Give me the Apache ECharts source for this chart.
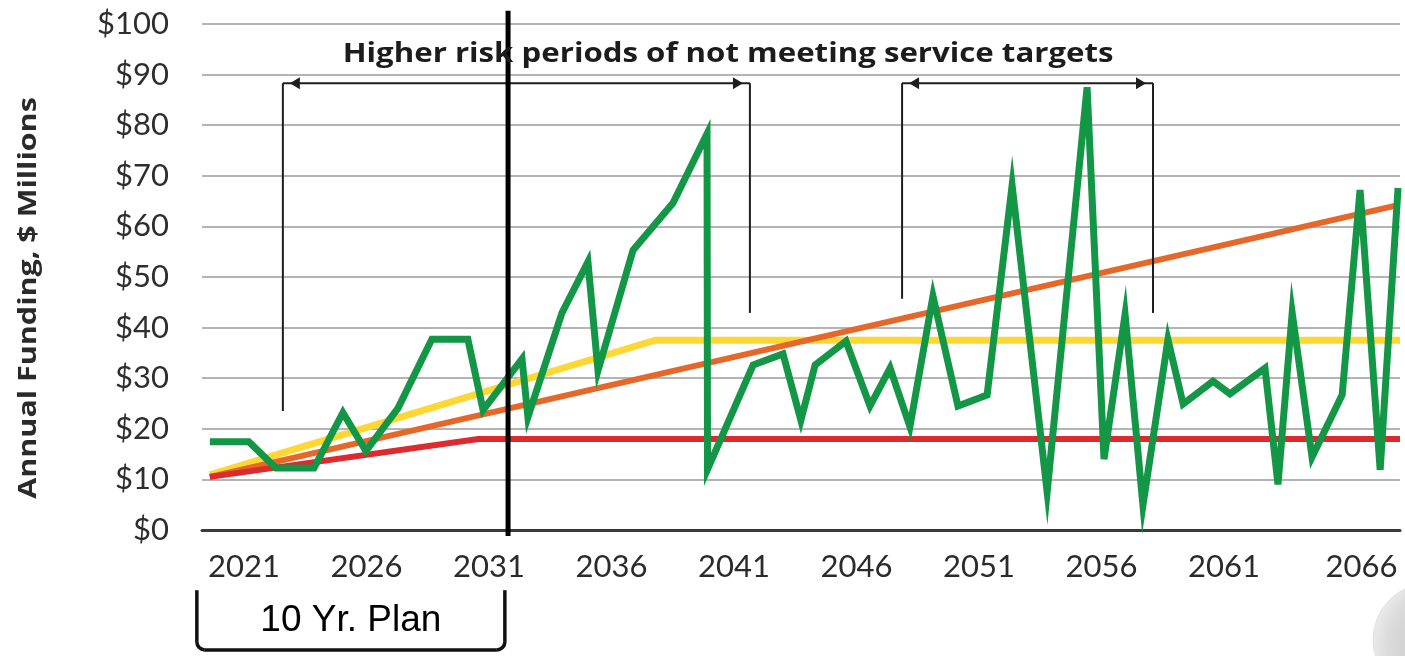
<!DOCTYPE html>
<html><head><meta charset="utf-8">
<script src="https://cdn.jsdelivr.net/npm/echarts@6/dist/echarts.min.js"></script>
<style>html,body{margin:0;padding:0;background:#fff}#c{width:1405px;height:656px}</style>
</head><body><div id="c"></div>
<script>
// ---- data (years on x, $ millions on y) ----
const yearTicks = [2021, 2026, 2031, 2036, 2041, 2046, 2051, 2056, 2061, 2066];
const valueTicks = [0, 10, 20, 30, 40, 50, 60, 70, 80, 90, 100];

const greenYears = [2019.61, 2021.20, 2022.31, 2023.86, 2025.04, 2025.98, 2027.29, 2028.67, 2030.14, 2030.76,
  2032.35, 2032.59, 2033.98, 2035.04, 2035.45, 2036.88, 2038.51, 2039.90, 2039.92, 2041.78,
  2043.00, 2043.73, 2044.31, 2045.57, 2046.55, 2047.37, 2048.18, 2049.12, 2050.14, 2051.33,
  2052.35, 2053.78, 2055.41, 2056.10, 2056.96, 2057.69, 2058.71, 2059.33, 2060.55, 2061.24,
  2062.67, 2063.20, 2063.78, 2064.59, 2065.82, 2066.55, 2067.37, 2068.10];
const greenValues = [17.45, 17.45, 12.25, 12.25, 23.2, 15.6, 24.1, 37.7, 37.7, 23.7,
  33.8, 22.3, 42.9, 53.0, 31.5, 55.3, 64.6, 78.3, 12.0, 32.6,
  34.8, 21.7, 32.6, 37.3, 24.5, 32.0, 20.4, 46.2, 24.5, 26.7,
  68.1, 7.5, 87.5, 14.0, 42.6, 4.9, 37.6, 24.9, 29.4, 26.9,
  32.0, 9.0, 42.9, 14.4, 26.7, 67.2, 11.9, 67.6];

const redYears = [2019.61, 2030.57, 2068.18];
const redValues = [10.5, 18.0, 18.0];
const yellowYears = [2019.61, 2037.78, 2068.18];
const yellowValues = [10.9, 37.5, 37.5];
const orangeYears = [2019.61, 2068.10];
const orangeValues = [10.5, 64.2];

// annotations (data units)
const planEndYear = 2031.78;
const planLineRange = [-1.2, 102.6];
const planBracketYears = [2019.08, 2031.65];
const planBracketValues = [-11.9, -23.7];
const planLabel = '10 Yr. Plan';
const riskTitle = 'Higher risk periods of not meeting service targets';
const riskTitlePos = [2040.76, 93.9];
const riskTop = 88.3;
const riskStarts = [2022.59, 2047.86];
const riskEnds = [2041.65, 2058.10];
const riskStartBottoms = [23.5, 45.7];
const riskEndBottoms = [42.9, 42.9];
const yAxisTitle = 'Annual Funding, $ Millions';

const zip = (xs, ys) => xs.map((x, i) => [x, ys[i]]);
const lastTick = yearTicks[yearTicks.length - 1];

const chart = echarts.init(document.getElementById('c'), null, { renderer: 'canvas' });

const option = {
  animation: false,
  backgroundColor: '#ffffff',
  grid: { left: 202, right: 5, top: 24, bottom: 126, containLabel: false },
  xAxis: {
    type: 'value', min: 2019.29, max: 2068.18,
    axisLine: { show: true, onZero: true, lineStyle: { color: '#3a3a3a', width: 3 } },
    axisTick: { show: false },
    splitLine: { show: false },
    axisLabel: {
      customValues: yearTicks,
      formatter: v => Math.round(v) === lastTick ? '{last|' + lastTick + '}' : String(Math.round(v)),
      fontFamily: 'Lato', fontSize: 31, color: '#2b2b2b', margin: 21,
      rich: { last: { fontFamily: 'Lato', fontSize: 31, color: '#2b2b2b', padding: [0, 0, 0, 30] } }
    }
  },
  yAxis: {
    type: 'value', min: 0, max: 100, interval: 10,
    axisLine: { show: false }, axisTick: { show: false },
    splitLine: { show: true, lineStyle: { color: '#b4b4b4', width: 2 } },
    axisLabel: {
      formatter: v => '$' + v,
      fontFamily: 'Lato', fontSize: 31, color: '#2e2e2e', margin: 33
    }
  },
  series: [
    { name: 'yellow', type: 'line', data: zip(yellowYears, yellowValues), symbol: 'none', z: 2,
      lineStyle: { color: '#fdd835', width: 7 } },
    { name: 'orange', type: 'line', data: zip(orangeYears, orangeValues), symbol: 'none', z: 3,
      lineStyle: { color: '#e5672a', width: 6 } },
    { name: 'red', type: 'line', data: zip(redYears, redValues), symbol: 'none', z: 4,
      lineStyle: { color: '#dd2a2e', width: 6 } },
    { name: 'green', type: 'line', data: zip(greenYears, greenValues), symbol: 'none', z: 5,
      lineStyle: { color: '#139646', width: 7, join: 'miter', miterLimit: 10 } }
  ]
};
chart.setOption(option);

function buildGraphics() {
  const P = (x, y) => chart.convertToPixel({ gridIndex: 0 }, [x, y]);
  const ink = '#1e1e1e';
  const els = [];
  const seg = (a, b, w, c) => ({ type: 'line', z: 100,
    shape: { x1: a[0], y1: a[1], x2: b[0], y2: b[1] },
    style: { stroke: c || ink, lineWidth: w || 2 } });

  // risk brackets
  for (let i = 0; i < riskStarts.length; i++) {
    const tl = P(riskStarts[i], riskTop), tr = P(riskEnds[i], riskTop);
    const bl = P(riskStarts[i], riskStartBottoms[i]), br = P(riskEnds[i], riskEndBottoms[i]);
    els.push(seg(tl, tr), seg(tl, bl), seg(tr, br));
    const aL = [tl[0] + 7, tl[1]], aR = [tr[0] - 7, tr[1]];
    els.push({ type: 'polygon', z: 101, shape: { points: [[aL[0], aL[1]], [aL[0] + 10, aL[1] - 6], [aL[0] + 10, aL[1] + 6]] }, style: { fill: ink } });
    els.push({ type: 'polygon', z: 101, shape: { points: [[aR[0], aR[1]], [aR[0] - 10, aR[1] - 6], [aR[0] - 10, aR[1] + 6]] }, style: { fill: ink } });
  }
  // title of risk periods
  const tp = P(riskTitlePos[0], riskTitlePos[1]);
  els.push({ type: 'text', z: 102, x: tp[0], y: tp[1], scaleX: 1.2,
    style: { text: riskTitle, fill: '#1c1c1c', fontFamily: 'Open Sans', fontWeight: 'bold', fontSize: 26,
      align: 'center', verticalAlign: 'middle', textAlign: 'center', textVerticalAlign: 'middle' } });

  // 10-year plan line
  const p1 = P(planEndYear, planLineRange[0]), p2 = P(planEndYear, planLineRange[1]);
  els.push(seg(p1, p2, 5, '#000'));

  // 10-year plan bracket below axis
  const bt = P(planBracketYears[0], planBracketValues[0]);
  const bb = P(planBracketYears[1], planBracketValues[1]);
  const xL = bt[0], xR = bb[0], yT = bt[1], yB = bb[1], r = 8;
  els.push(seg([xL, yT], [xL, yB - r], 3.5, '#111'));
  els.push(seg([xR, yT], [xR, yB - r], 3.5, '#111'));
  els.push(seg([xL + r, yB], [xR - r, yB], 3.5, '#111'));
  els.push({ type: 'arc', z: 100, shape: { cx: xL + r, cy: yB - r, r: r, startAngle: Math.PI / 2, endAngle: Math.PI, clockwise: true }, style: { stroke: '#111', lineWidth: 3.5, fill: null } });
  els.push({ type: 'arc', z: 100, shape: { cx: xR - r, cy: yB - r, r: r, startAngle: 0, endAngle: Math.PI / 2, clockwise: true }, style: { stroke: '#111', lineWidth: 3.5, fill: null } });
  els.push({ type: 'text', z: 102, x: (xL + xR) / 2, y: (yT + yB) / 2 + 1,
    style: { text: planLabel, fill: '#000', fontFamily: 'Liberation Sans', fontSize: 37,
      align: 'center', verticalAlign: 'middle', textAlign: 'center', textVerticalAlign: 'middle' } });

  // y axis title
  els.push({ type: 'text', z: 102, x: 29, y: 298, rotation: Math.PI / 2, scaleX: 1.22,
    style: { text: yAxisTitle, fill: '#2a2a2a', fontFamily: 'Open Sans', fontWeight: 'bold', fontSize: 25,
      align: 'center', verticalAlign: 'middle', textAlign: 'center', textVerticalAlign: 'middle' } });

  // decorative sphere at bottom right
  els.push({ type: 'circle', z: 1, shape: { cx: 1430, cy: 640, r: 57 },
    style: { fill: new echarts.graphic.RadialGradient(0.65, 0.55, 0.75, [
      { offset: 0, color: '#bfbfbf' }, { offset: 0.7, color: '#dcdcdc' }, { offset: 1, color: '#f6f6f6' }]),
      stroke: '#e0e0e0', lineWidth: 1 } });

  chart.setOption({ graphic: { elements: els } });
}
buildGraphics();
</script></body></html>
